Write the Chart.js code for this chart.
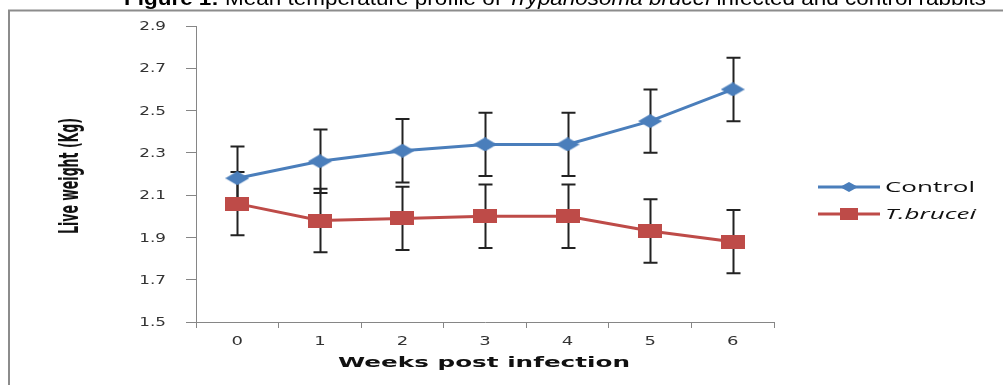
<!DOCTYPE html>
<html lang="en">
  <head>
    <meta charset="UTF-8" />
    <title>Live weight</title>
    <style>
      body { margin: 0; background: #fff; }
    </style>
  </head>
  <body>
    <div style="width: 1003px; height: 385px;">
      <canvas id="myChart" width="1003" height="385"></canvas>
    </div>
    <script src="https://cdn.jsdelivr.net/npm/chart.js@4"></script>
    <script>
      const weeks = ["0", "1", "2", "3", "4", "5", "6"];
      const controlWeight = [2.18, 2.26, 2.31, 2.34, 2.34, 2.45, 2.60];
      const controlErr = [0.15, 0.15, 0.15, 0.15, 0.15, 0.15, 0.15];
      const bruceiWeight = [2.06, 1.98, 1.99, 2.00, 2.00, 1.93, 1.88];
      const bruceiErr = [0.15, 0.15, 0.15, 0.15, 0.15, 0.15, 0.15];
      const seriesNames = ["Control", "T.brucei"];
      const xTitle = "Weeks post infection";
      const yTitle = "Live weight (Kg)";

      const blue = "#4a7ebb";
      const red = "#be4b48";

      function marker(kind, w, h, color) {
        const c = document.createElement("canvas");
        c.width = w;
        c.height = h;
        const g = c.getContext("2d");
        g.fillStyle = color;
        if (kind == "diamond") {
          g.beginPath();
          g.moveTo(w / 2, 0);
          g.lineTo(w, h / 2);
          g.lineTo(w / 2, h);
          g.lineTo(0, h / 2);
          g.closePath();
          g.fill();
        } else {
          g.fillRect(0, 0, w, h);
        }
        return c;
      }
      const diamond = marker("diamond", 24, 14, blue);
      const square = marker("square", 24, 14, red);
      const diamondSmall = marker("diamond", 18, 10, blue);
      const squareSmall = marker("square", 18, 12, red);

      // the source picture is stretched sideways, so text is drawn wide
      function wideText(ctx, text, font, x, y, align, sx) {
        ctx.save();
        ctx.font = font;
        ctx.translate(x, y);
        ctx.scale(sx, 1);
        ctx.textAlign = align;
        ctx.fillText(text, 0, 0);
        ctx.restore();
      }

      const extras = {
        id: "extras",
        beforeDraw(chart) {
          const ctx = chart.ctx;
          ctx.save();
          ctx.strokeStyle = "#8c8c8c";
          ctx.lineWidth = 2;
          ctx.beginPath();
          ctx.moveTo(9, 400);
          ctx.lineTo(9, 10.5);
          ctx.lineTo(1010, 10.5);
          ctx.stroke();

          // title, mostly cut off by the top edge
          const parts = [
            ["bold", "Figure 1"],
            ["bold", ": "],
            ["normal", "Mean temperature profile of "],
            ["italic", "Trypanosoma brucei"],
            ["normal", " infected and control rabbits"],
          ];
          const size = 20;
          let total = 0;
          parts.forEach((p) => {
            ctx.font = p[0] + " " + size + "px 'Liberation Sans'";
            total += ctx.measureText(p[1]).width;
          });
          const sx = 862 / total;
          ctx.translate(124, 5);
          ctx.scale(sx, 1);
          let x = 0;
          ctx.fillStyle = "#000";
          parts.forEach((p) => {
            ctx.font = p[0] + " " + size + "px 'Liberation Sans'";
            ctx.fillText(p[1], x, 0);
            x += ctx.measureText(p[1]).width;
          });
          ctx.restore();
        },
        beforeDatasetsDraw(chart) {
          const ctx = chart.ctx;
          const xs = chart.scales.x;
          const ys = chart.scales.y;
          ctx.save();
          ctx.strokeStyle = "#222";
          ctx.lineWidth = 2;
          [[controlWeight, controlErr], [bruceiWeight, bruceiErr]].forEach(([vals, errs]) => {
            vals.forEach((v, i) => {
              const px = Math.round(xs.getPixelForValue(i)) + 0.5;
              const top = ys.getPixelForValue(v + errs[i]);
              const bot = ys.getPixelForValue(v - errs[i]);
              ctx.beginPath();
              ctx.moveTo(px, top);
              ctx.lineTo(px, bot);
              ctx.moveTo(px - 7, top);
              ctx.lineTo(px + 7, top);
              ctx.moveTo(px - 7, bot);
              ctx.lineTo(px + 7, bot);
              ctx.stroke();
            });
          });
          ctx.restore();
        },
        afterDraw(chart) {
          const ctx = chart.ctx;
          const xs = chart.scales.x;
          const ys = chart.scales.y;
          ctx.save();

          // tick labels
          ctx.fillStyle = "#333";
          ctx.textBaseline = "middle";
          const tickFont = "12px 'DejaVu Sans'";
          ys.ticks.forEach((t, i) => {
            wideText(ctx, t.value.toFixed(1), tickFont, 166, ys.getPixelForTick(i) + 1, "right", 1.4);
          });
          xs.ticks.forEach((t, i) => {
            wideText(ctx, weeks[t.value], tickFont, xs.getPixelForTick(i), 342, "center", 1.5);
          });

          // axis titles
          ctx.fillStyle = "#111";
          ctx.font = "bold 14px 'DejaVu Sans'";
          const xw = ctx.measureText(xTitle).width;
          wideText(ctx, xTitle, "bold 14px 'DejaVu Sans'", (xs.left + xs.right) / 2 - 1, 363, "center", 292 / xw);

          const yFont = "bold 15px 'Liberation Sans Narrow', 'DejaVu Sans Condensed'";
          ctx.font = yFont;
          const yw = ctx.measureText(yTitle).width;
          ctx.save();
          ctx.translate(71, 176);
          ctx.rotate(-Math.PI / 2);
          ctx.scale(116 / yw, 1.75);
          ctx.font = yFont;
          ctx.textAlign = "center";
          ctx.fillText(yTitle, 0, 0);
          ctx.restore();

          // legend
          const legFont = "14px 'Open Sans'";
          ctx.font = legFont;
          const lsx = 90 / ctx.measureText(seriesNames[0]).width;
          const rows = [
            [seriesNames[0], blue, diamondSmall, 187, ""],
            [seriesNames[1], red, squareSmall, 214, "italic "],
          ];
          rows.forEach(([name, color, img, y, style]) => {
            ctx.strokeStyle = color;
            ctx.lineWidth = 3;
            ctx.beginPath();
            ctx.moveTo(818, y);
            ctx.lineTo(880, y);
            ctx.stroke();
            ctx.drawImage(img, 849 - img.width / 2, y - img.height / 2);
            ctx.fillStyle = "#111";
            wideText(ctx, name, style + legFont, 885, y + 1, "left", lsx);
          });
          ctx.restore();
        },
      };

      const ctx = document.getElementById("myChart").getContext("2d");
      new Chart(ctx, {
        type: "line",
        data: {
          labels: weeks,
          datasets: [
            {
              label: seriesNames[0],
              data: controlWeight,
              borderColor: blue,
              backgroundColor: blue,
              borderWidth: 3,
              pointStyle: diamond,
              tension: 0,
            },
            {
              label: seriesNames[1],
              data: bruceiWeight,
              borderColor: red,
              backgroundColor: red,
              borderWidth: 3,
              pointStyle: square,
              tension: 0,
            },
          ],
        },
        options: {
          responsive: false,
          animation: false,
          layout: { padding: { left: 10, top: 26, right: 229, bottom: 0 } },
          plugins: {
            legend: { display: false },
            tooltip: { enabled: false },
          },
          scales: {
            x: {
              type: "category",
              offset: true,
              grid: { offset: true, drawOnChartArea: false, tickLength: 6, color: "#868686" },
              border: { color: "#868686" },
              ticks: { display: false },
              afterFit(scale) {
                scale.height = 63;
              },
            },
            y: {
              min: 1.5,
              max: 2.9,
              grid: { drawOnChartArea: false, tickLength: 10, color: "#868686" },
              border: { color: "#868686" },
              ticks: { display: false, stepSize: 0.2 },
              afterFit(scale) {
                scale.width = 186;
              },
            },
          },
        },
        plugins: [extras],
      });
    </script>
  </body>
</html>
